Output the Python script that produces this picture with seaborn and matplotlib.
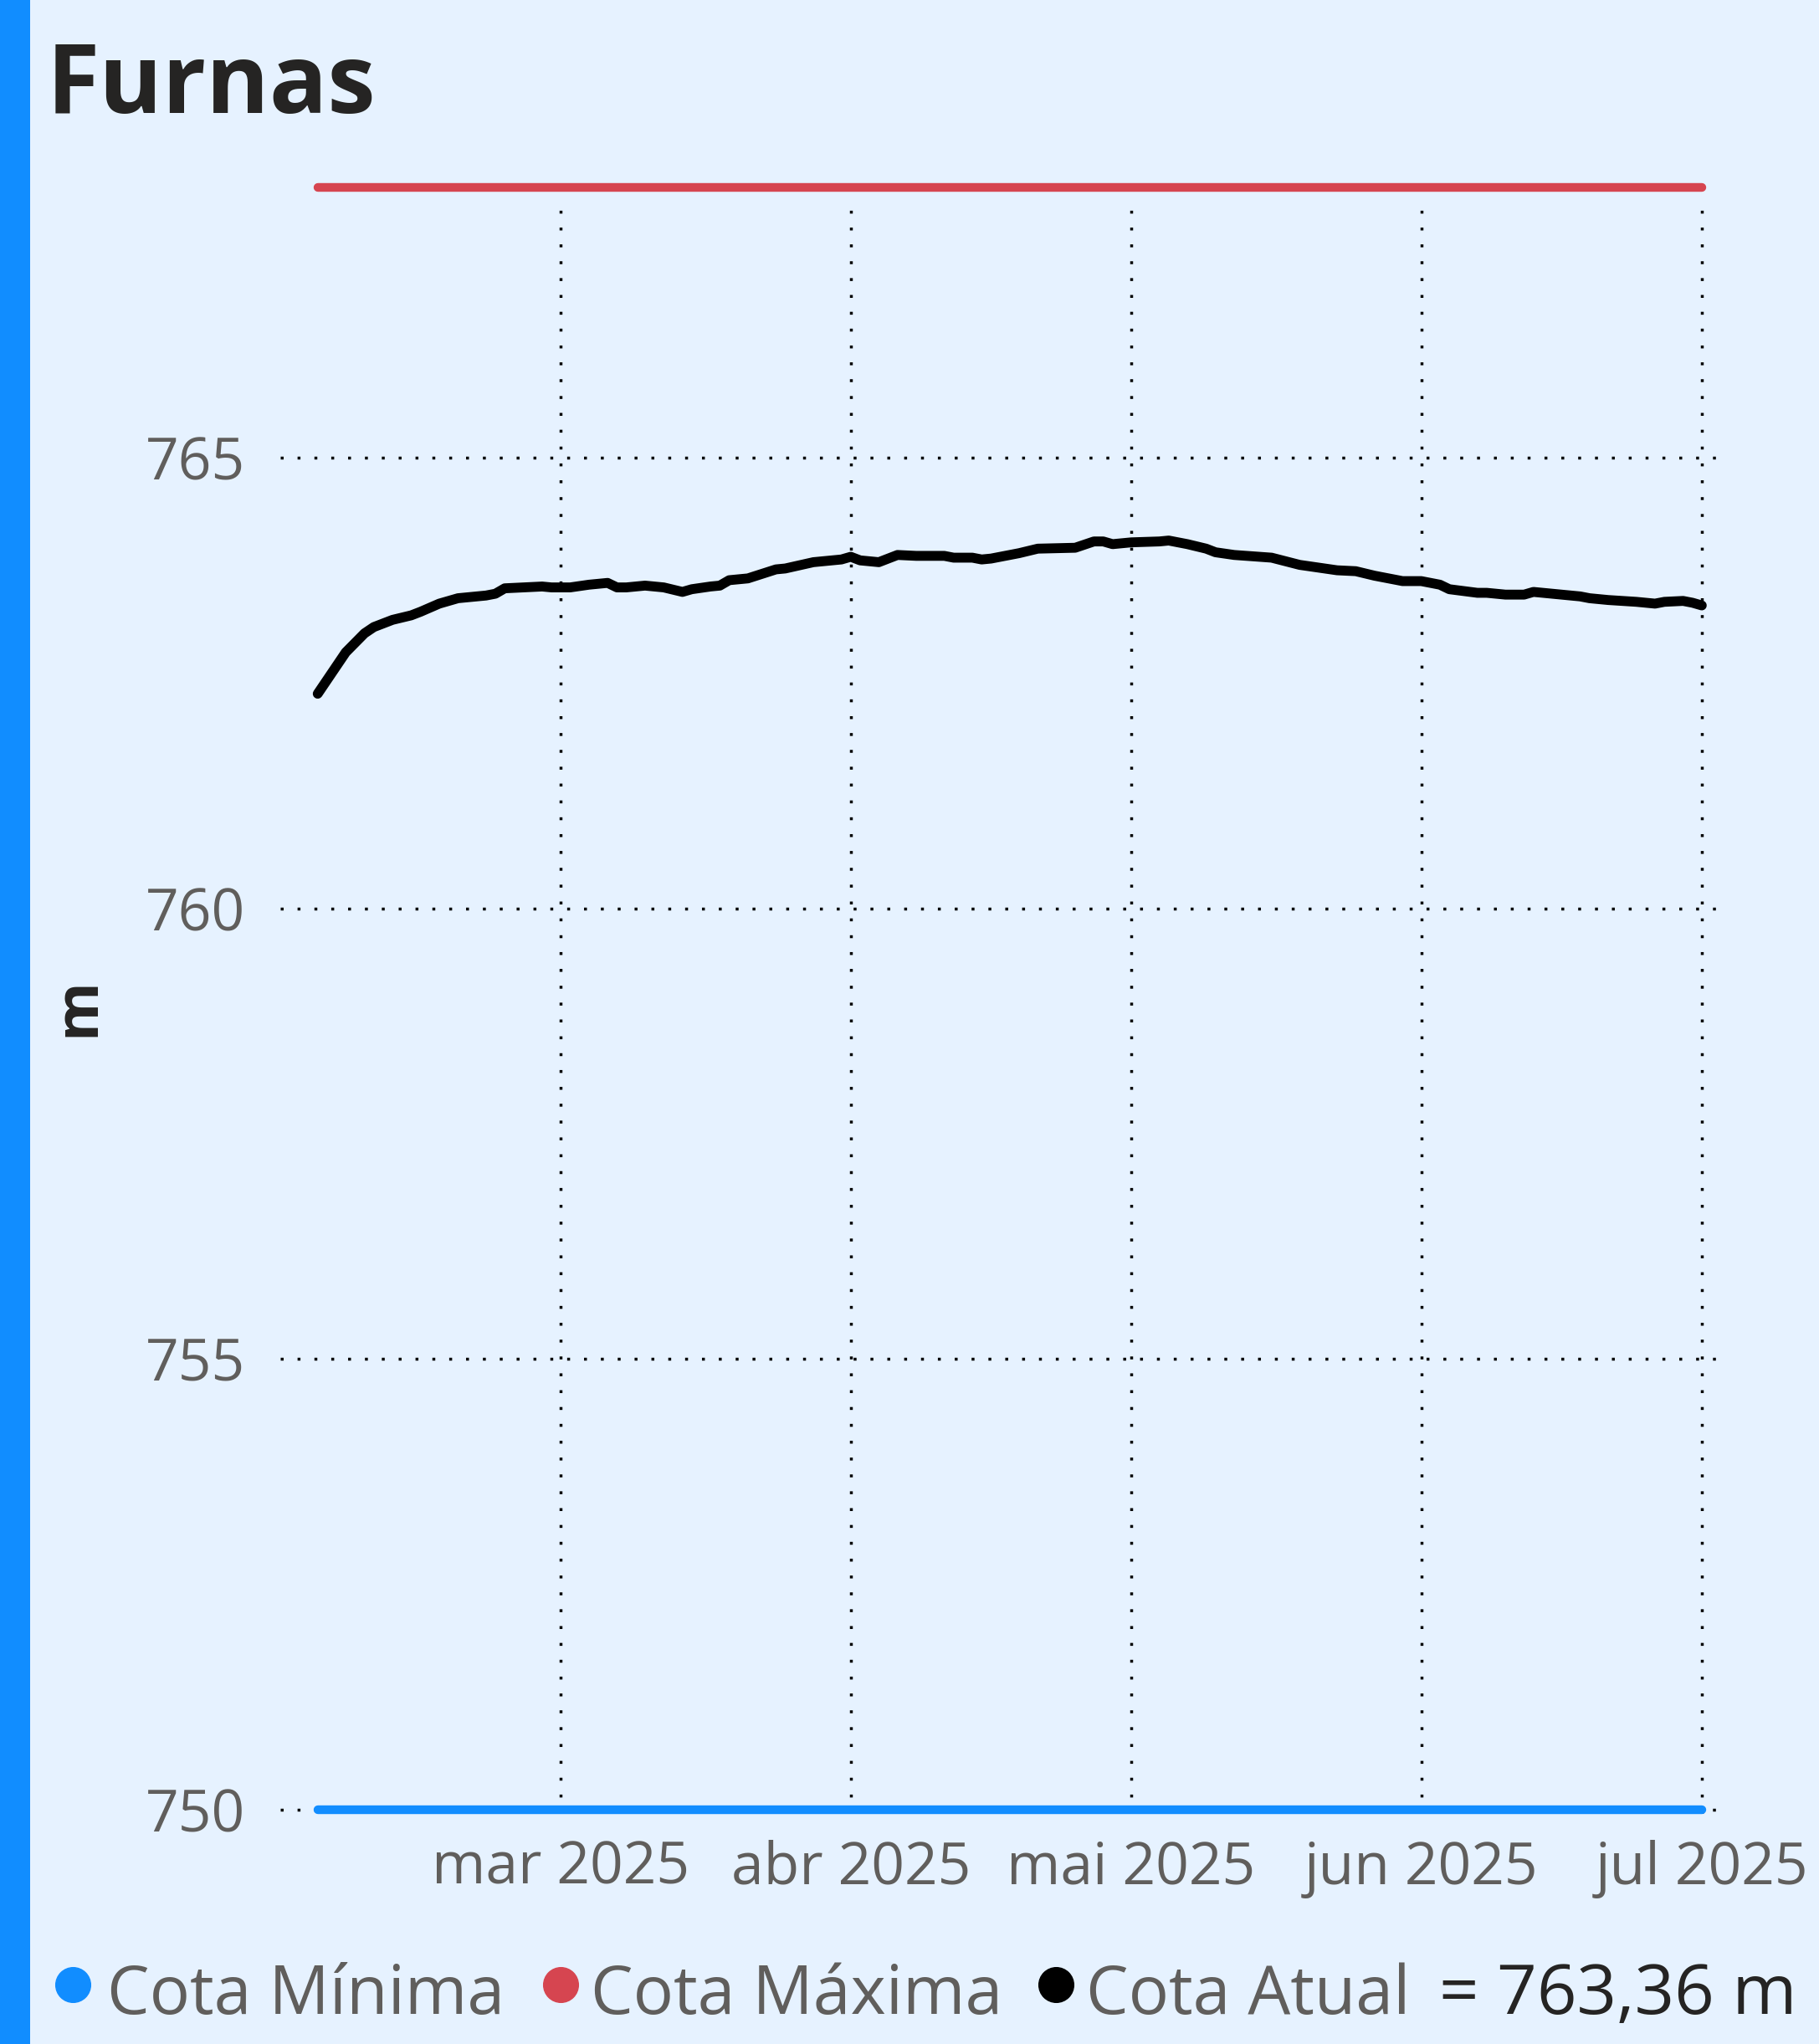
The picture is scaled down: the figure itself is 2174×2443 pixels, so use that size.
import matplotlib
matplotlib.use('Agg')
import matplotlib.pyplot as plt
import seaborn as sns
import pandas as pd
from matplotlib.lines import Line2D
from matplotlib.patches import Rectangle

# ---------------- data ----------------
dates = [
    '2025-02-03', '2025-02-06', '2025-02-08', '2025-02-09', '2025-02-11', '2025-02-13',
    '2025-02-14', '2025-02-16', '2025-02-18', '2025-02-21', '2025-02-22', '2025-02-23',
    '2025-02-25', '2025-02-27', '2025-02-28', '2025-03-02', '2025-03-04', '2025-03-06',
    '2025-03-07', '2025-03-08', '2025-03-10', '2025-03-12', '2025-03-14', '2025-03-15',
    '2025-03-17', '2025-03-18', '2025-03-19', '2025-03-21', '2025-03-24', '2025-03-25',
    '2025-03-28', '2025-03-31', '2025-04-01', '2025-04-02', '2025-04-04', '2025-04-06',
    '2025-04-08', '2025-04-11', '2025-04-12', '2025-04-14', '2025-04-15', '2025-04-16',
    '2025-04-19', '2025-04-21', '2025-04-25', '2025-04-27', '2025-04-28', '2025-04-29',
    '2025-05-01', '2025-05-04', '2025-05-05', '2025-05-07', '2025-05-09', '2025-05-10',
    '2025-05-12', '2025-05-16', '2025-05-19', '2025-05-23', '2025-05-25', '2025-05-27',
    '2025-05-30', '2025-06-01', '2025-06-03', '2025-06-04', '2025-06-07', '2025-06-08',
    '2025-06-10', '2025-06-12', '2025-06-13', '2025-06-15', '2025-06-18', '2025-06-19',
    '2025-06-21', '2025-06-24', '2025-06-25', '2025-06-26', '2025-06-27', '2025-06-29',
    '2025-06-30', '2025-07-01',
]
cota_atual = [
    762.38, 762.84, 763.05, 763.12, 763.20, 763.25,
    763.29, 763.38, 763.44, 763.47, 763.49, 763.55,
    763.56, 763.57, 763.56, 763.56, 763.59, 763.61,
    763.56, 763.56, 763.58, 763.56, 763.51, 763.54,
    763.57, 763.58, 763.64, 763.66, 763.76, 763.77,
    763.84, 763.87, 763.90, 763.86, 763.84, 763.92,
    763.91, 763.91, 763.89, 763.89, 763.87, 763.88,
    763.94, 763.99, 764.00, 764.07, 764.07, 764.04,
    764.06, 764.07, 764.08, 764.04, 763.99, 763.95,
    763.92, 763.89, 763.81, 763.75, 763.74, 763.69,
    763.63, 763.63, 763.59, 763.54, 763.50, 763.50,
    763.48, 763.48, 763.51, 763.49, 763.46, 763.44,
    763.42, 763.40, 763.39, 763.38, 763.40, 763.41,
    763.39, 763.36,
]
cota_minima = 750.0
cota_maxima = 768.0

month_ticks = ['2025-03-01', '2025-04-01', '2025-05-01', '2025-06-01', '2025-07-01']
month_labels = ['mar 2025', 'abr 2025', 'mai 2025', 'jun 2025', 'jul 2025']
y_ticks = [750, 755, 760, 765]
y_tick_labels = ['750', '755', '760', '765']

title_text = 'Furnas'
y_label = 'm'
legend_labels = ['Cota Mínima', 'Cota Máxima', 'Cota Atual']
valor_atual_text = '= 763,36 m'

# ---------------- style ----------------
BG = '#E6F2FF'
BLUE = '#118DFF'
RED = '#D64550'
GRAY = '#605E5C'
DARK = '#252423'

sns.set_theme(style='white')
plt.rcParams['font.family'] = ['Open Sans', 'DejaVu Sans']

W, H = 2174, 2443
fig = plt.figure(figsize=(W / 100, H / 100), dpi=100, facecolor=BG)

# left accent stripe
fig.add_artist(Rectangle((0, 0), 36 / W, 1, transform=fig.transFigure,
                         facecolor=BLUE, edgecolor='none', zorder=0))

ax_l, ax_r, ax_t, ax_b = 335, 2060, 240, 2168
ax = fig.add_axes([ax_l / W, 1 - ax_b / H, (ax_r - ax_l) / W, (ax_b - ax_t) / H])
ax.set_facecolor(BG)

df = pd.DataFrame({'data': pd.to_datetime(dates), 'cota': cota_atual})

ax.hlines(cota_maxima, df['data'].min(), df['data'].max(), colors=RED,
          linewidth=7.5, capstyle='round', clip_on=False, zorder=3)
ax.hlines(cota_minima, df['data'].min(), df['data'].max(), colors=BLUE,
          linewidth=7.5, capstyle='round', clip_on=False, zorder=3)
sns.lineplot(data=df, x='data', y='cota', ax=ax, color='black', linewidth=8.5,
             solid_capstyle='round', solid_joinstyle='round', zorder=4)

ax.set_xlim(pd.Timestamp('2025-01-30'), pd.Timestamp('2025-07-03 08:00'))
ax.set_ylim(749.95, 767.85)

ax.set_xticks(pd.to_datetime(month_ticks))
ax.set_xticklabels(month_labels)
ax.set_yticks(y_ticks)
ax.set_yticklabels(y_tick_labels)

ax.grid(True, color='black', linestyle=(0, (1, 4.8)), linewidth=2.5)
ax.set_axisbelow(True)
for s in ax.spines.values():
    s.set_visible(False)

ax.tick_params(axis='both', length=0, labelsize=50, labelcolor=GRAY)
ax.tick_params(axis='x', pad=22)
ax.tick_params(axis='y', pad=30)

ax.set_xlabel('')
ax.set_ylabel(y_label, fontsize=52, fontweight='bold', color=DARK)
ax.yaxis.set_label_coords((129 - ax_l) / (ax_r - ax_l), 0.5)

# title
fig.text(56 / W, 1 - 135 / H, title_text, fontsize=83, fontweight='bold',
         color=DARK, ha='left', va='baseline')

# legend
base_y = 1 - 2407 / H
mark_y = 1 - 2372 / H
for lbl, col, mx, tx in zip(legend_labels, [BLUE, RED, 'black'],
                            [87, 670, 1262], [128, 706, 1298]):
    fig.add_artist(Line2D([mx / W], [mark_y], marker='o', markersize=30,
                          color=col, linestyle='none', transform=fig.transFigure))
    fig.text(tx / W, base_y, lbl, fontsize=58, color=GRAY, ha='left', va='baseline')
fig.text(1720 / W, base_y, valor_atual_text, fontsize=60, color=DARK,
         ha='left', va='baseline')

fig.savefig('out.png', dpi=100, facecolor=BG)
